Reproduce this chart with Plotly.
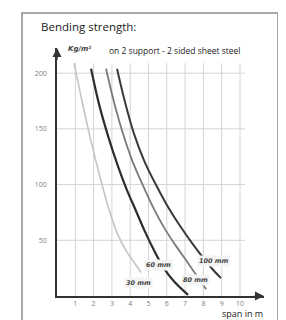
import plotly.graph_objects as go

# ---- data ----
x_ticks = [1, 2, 3, 4, 5, 6, 7, 8, 9, 10]
y_ticks = [50, 100, 150, 200]

x_30 = [0.93, 1.3, 1.8, 2.3, 2.8, 3.3, 3.8, 4.3, 4.6]
y_30 = [209, 180, 143, 110, 80, 56, 40, 28, 21]

x_60 = [1.86, 2.3, 2.8, 3.3, 3.8, 4.3, 4.8, 5.3, 5.8, 6.4, 7.16]
y_60 = [204, 172, 143, 118, 96, 77, 58, 41, 26, 13, 1]

x_80 = [2.68, 3.1, 3.6, 4.1, 4.7, 5.3, 5.9, 6.5, 7.1, 7.6, 8.15]
y_80 = [204, 175, 146, 122, 99, 78, 60, 45, 31, 19, 6]

x_100 = [3.28, 3.7, 4.2, 4.8, 5.5, 6.1, 6.8, 7.4, 8.0, 8.5, 8.96]
y_100 = [204, 175, 146, 120, 97, 79, 61, 47, 34, 24, 16]

curve_labels = ["30 mm", "60 mm", "80 mm", "100 mm"]
label_x = [4.48, 5.52, 7.54, 8.58]
label_y = [11.7, 27.8, 14.4, 31.4]

X_MAX = 11.31
Y_MAX = 222.6
GRID_X_END = 10.27
GRID_Y_END = 209

fig = go.Figure()

series = [
    (x_30, y_30, "#c4c4c4", 1.6),
    (x_60, y_60, "#2e2e2e", 2.2),
    (x_80, y_80, "#7a7a7a", 1.8),
    (x_100, y_100, "#3a3a3a", 2.0),
]
for xs, ys, col, w in series:
    fig.add_trace(go.Scatter(x=xs, y=ys, mode="lines",
                             line=dict(color=col, width=w, shape="spline", smoothing=1.0),
                             showlegend=False, hoverinfo="skip"))

shapes = []
for xv in x_ticks:
    shapes.append(dict(type="line", xref="x", yref="y", x0=xv, x1=xv, y0=0, y1=GRID_Y_END,
                       line=dict(color="#d4d4d4", width=1), layer="below"))
for yv in y_ticks:
    shapes.append(dict(type="line", xref="x", yref="y", x0=0, x1=GRID_X_END, y0=yv, y1=yv,
                       line=dict(color="#d4d4d4", width=1), layer="below"))
# outer frame
shapes.append(dict(type="rect", xref="paper", yref="paper",
                   x0=(14 - 49) / 207, x1=(270 - 49) / 207,
                   y0=(288 - 321) / 248, y1=(288 - 5) / 248,
                   line=dict(color="#a8a8a8", width=2), fillcolor="rgba(0,0,0,0)"))

annotations = []
# axis arrows
annotations.append(dict(x=X_MAX, y=0, ax=X_MAX - 0.6, ay=0, xref="x", yref="y", axref="x", ayref="y",
                        text="", showarrow=True, arrowhead=2, arrowsize=1.2, arrowwidth=1.5,
                        arrowcolor="#333"))
annotations.append(dict(x=0, y=Y_MAX, ax=0, ay=Y_MAX - 12, xref="x", yref="y", axref="x", ayref="y",
                        text="", showarrow=True, arrowhead=2, arrowsize=1.2, arrowwidth=1.5,
                        arrowcolor="#333"))
# curve labels
for t, lx, ly in zip(curve_labels, label_x, label_y):
    annotations.append(dict(x=lx, y=ly, xref="x", yref="y", text="<b><i>" + t + "</i></b>",
                            showarrow=False, font=dict(size=6.5, color="#444", family="DejaVu Sans"),
                            bgcolor="#f4f4f4", borderpad=1))
# texts
annotations.append(dict(x=(31 - 49) / 207, y=(288 - 18) / 248, xref="paper", yref="paper",
                        text="Bending strength:", showarrow=False, xanchor="left", yanchor="middle",
                        font=dict(size=11.5, color="#222", family="Open Sans")))
annotations.append(dict(x=(99 - 49) / 207, y=(288 - 42) / 248, xref="paper", yref="paper",
                        text="on 2 support - 2 sided sheet steel", showarrow=False,
                        xanchor="left", yanchor="middle",
                        font=dict(size=8.5, color="#222", family="Open Sans")))
annotations.append(dict(x=(58 - 49) / 207, y=(288 - 41) / 248, xref="paper", yref="paper",
                        text="<b><i>Kg/m²</i></b>", showarrow=False, xanchor="left", yanchor="middle",
                        font=dict(size=7, color="#444", family="DejaVu Sans")))
annotations.append(dict(x=(212 - 49) / 207, y=(288 - 305) / 248, xref="paper", yref="paper",
                        text="span in m", showarrow=False, xanchor="left", yanchor="middle",
                        font=dict(size=9, color="#222", family="Open Sans")))

fig.update_layout(
    width=286, height=320,
    margin=dict(l=49, r=30, t=40, b=32),
    paper_bgcolor="white", plot_bgcolor="white",
    shapes=shapes, annotations=annotations,
    xaxis=dict(range=[0, X_MAX], showgrid=False, zeroline=False, showline=True,
               linecolor="#333", linewidth=1.8, tickvals=x_ticks,
               ticktext=[str(v) for v in x_ticks], tickfont=dict(size=7, color="#808080"),
               ticks="", fixedrange=True),
    yaxis=dict(range=[0, Y_MAX], showgrid=False, zeroline=False, showline=True,
               linecolor="#333", linewidth=1.8, tickvals=y_ticks,
               ticktext=[str(v) for v in y_ticks], tickfont=dict(size=7, color="#808080"),
               ticks="", ticklabelstandoff=7, fixedrange=True),
)

fig.write_html("out.html")
